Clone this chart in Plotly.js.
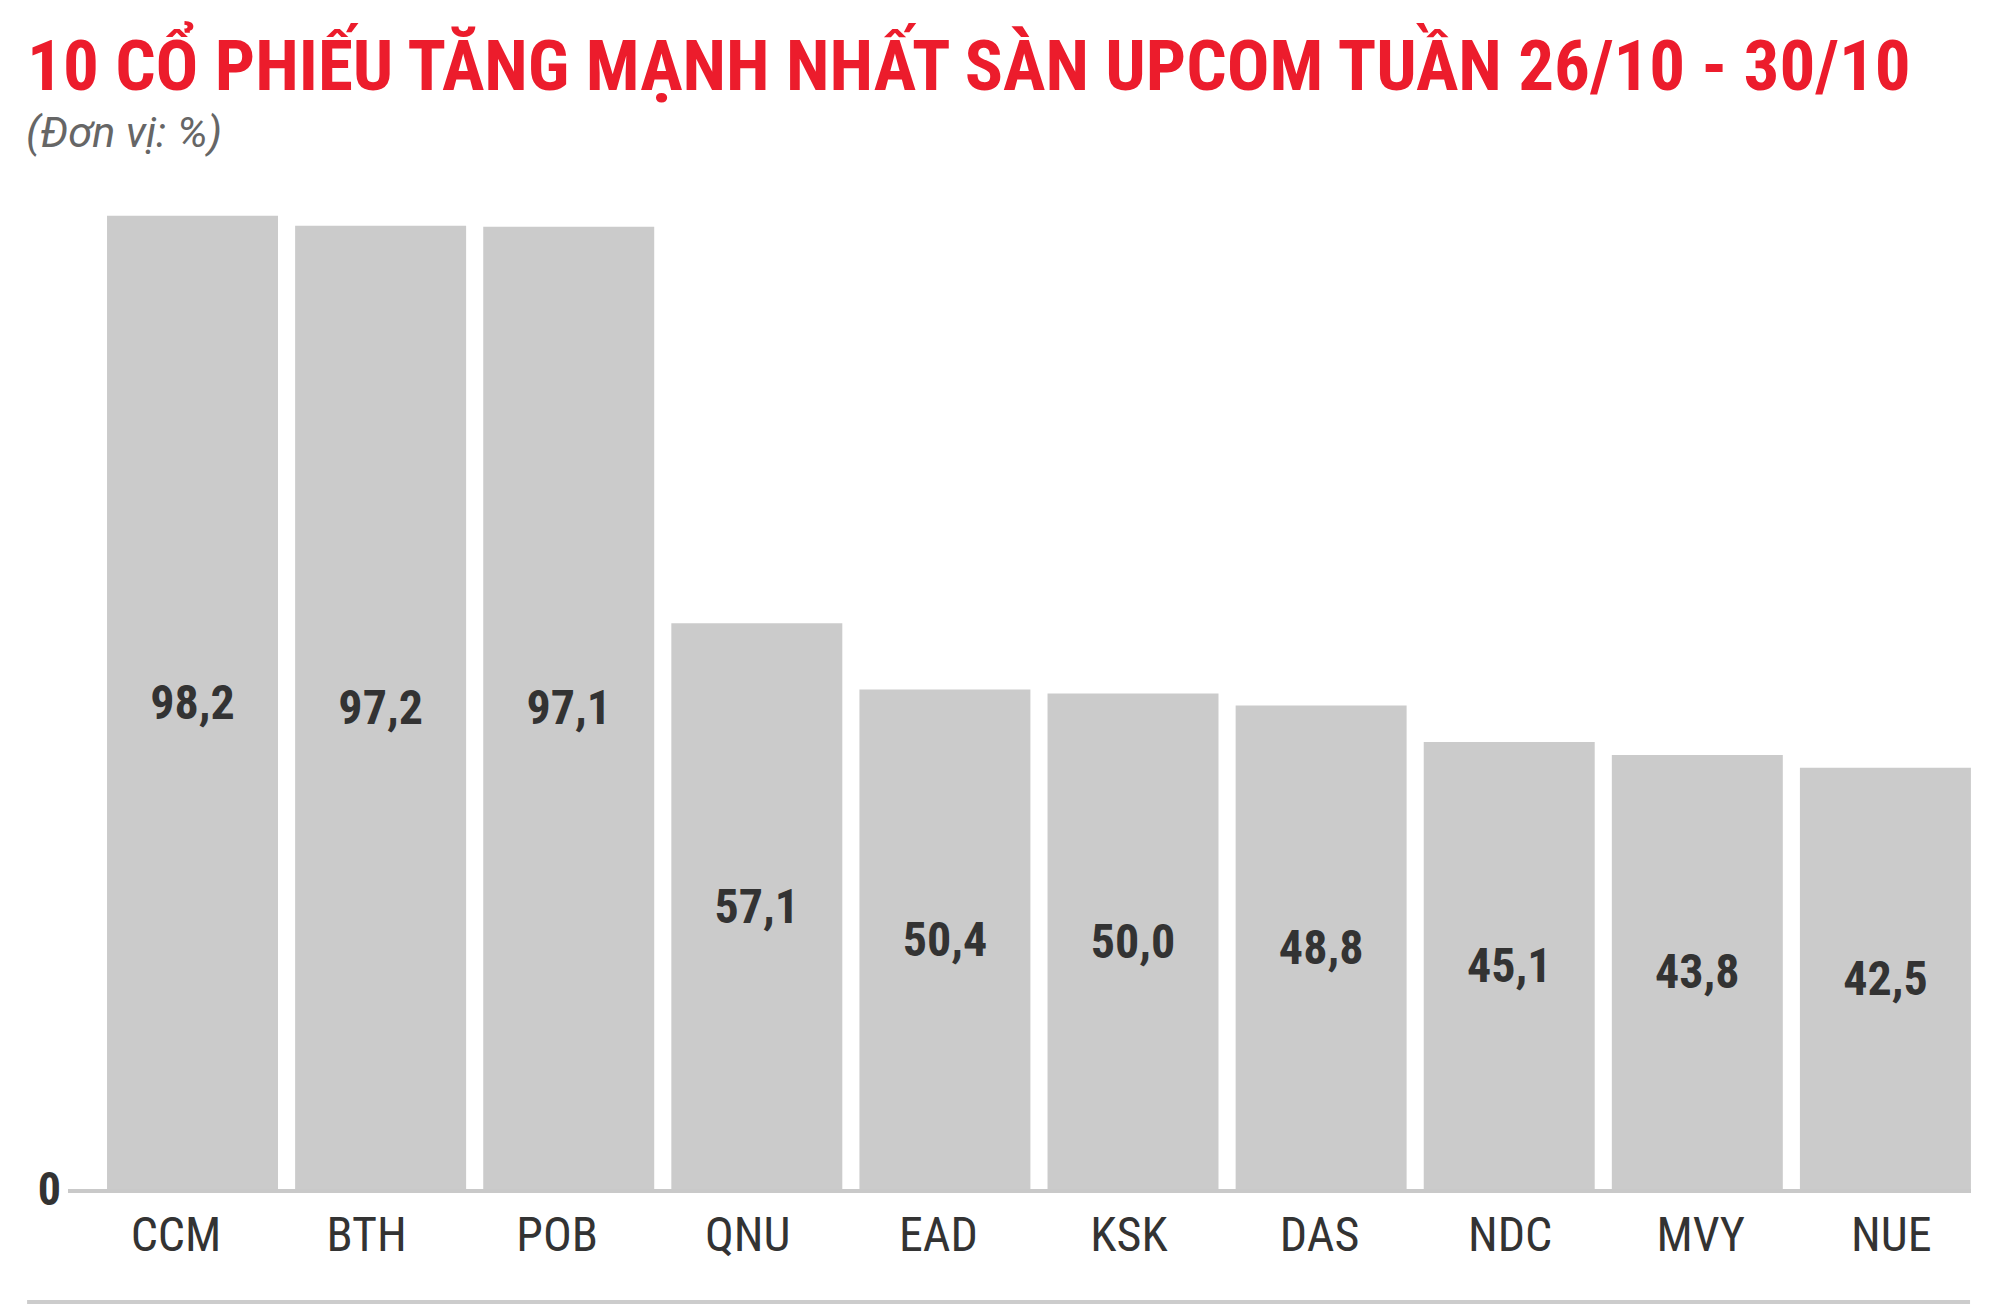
<!DOCTYPE html>
<html>
<head>
<meta charset="utf-8">
<script src="https://cdn.plot.ly/plotly-3.0.1.min.js"></script>
<style>html,body{margin:0;padding:0;background:#fff;}#chart{width:2000px;height:1304px;}</style>
</head>
<body>
<div id="chart"></div>
<script>
const categories = ['CCM', 'BTH', 'POB', 'QNU', 'EAD', 'KSK', 'DAS', 'NDC', 'MVY', 'NUE'];
const values = [98.2, 97.2, 97.1, 57.1, 50.4, 50.0, 48.8, 45.1, 43.8, 42.5];
const yTickVals = [0];
const yTickText = ['0'];
const titleText = '10 CỔ PHIẾU TĂNG MẠNH NHẤT SÀN UPCOM TUẦN 26/10 - 30/10';
const subtitleText = '(Đơn vị: %)';

const FONT = '"Roboto Condensed", "Liberation Sans Narrow", "DejaVu Sans Condensed", Roboto, sans-serif';
const FONT_SUB = 'Roboto, "Noto Sans", sans-serif';

const barTrace = {
  type: 'bar',
  x: categories,
  y: values,
  xaxis: 'x',
  yaxis: 'y',
  marker: {color: '#cbcbcb', line: {width: 0}},
  width: 0.909,
  text: values.map(v => v.toFixed(1).replace('.', ',')),
  textposition: 'inside',
  insidetextanchor: 'middle',
  constraintext: 'none',
  textangle: 0,
  textfont: {family: FONT, size: 48, color: '#333333', weight: 'bold'},
  hoverinfo: 'skip'
};

// invisible trace carrying the category labels on the label axis
const labelTrace = {
  type: 'scatter',
  mode: 'none',
  x: categories.map((c, i) => i),
  y: values,
  xaxis: 'x2',
  yaxis: 'y',
  hoverinfo: 'skip',
  showlegend: false
};

const layout = {
  width: 2000,
  height: 1304,
  paper_bgcolor: '#ffffff',
  plot_bgcolor: '#ffffff',
  separators: ',.',
  margin: {l: 68, r: 29, t: 198, b: 115},
  showlegend: false,
  title: {
    text: titleText,
    font: {family: FONT, size: 71, color: '#ec1c2c', weight: 'bold'},
    x: 0.0135, xref: 'container', xanchor: 'left',
    y: 0.969, yref: 'container', yanchor: 'top'
  },
  xaxis: {
    type: 'category',
    range: [-0.662, 9.455],
    showline: true,
    linecolor: '#c9c9c9',
    linewidth: 4,
    showgrid: false,
    zeroline: false,
    ticks: '',
    showticklabels: false,
    fixedrange: true
  },
  xaxis2: {
    overlaying: 'x',
    anchor: 'y',
    side: 'bottom',
    range: [-0.5666, 9.418],
    tickmode: 'array',
    tickvals: categories.map((c, i) => i),
    ticktext: categories,
    showline: false,
    showgrid: false,
    zeroline: false,
    ticks: '',
    tickfont: {family: FONT, size: 48, color: '#333333'},
    ticklabelstandoff: 13,
    fixedrange: true
  },
  yaxis: {
    range: [0, 100],
    showgrid: false,
    zeroline: false,
    showline: false,
    tickvals: yTickVals,
    ticktext: yTickText,
    ticks: '',
    tickfont: {family: FONT, size: 46, color: '#333333', weight: 'bold'},
    ticklabelstandoff: 6,
    fixedrange: true
  },
  annotations: [{
    text: subtitleText,
    xref: 'paper', yref: 'paper',
    x: -0.0230, y: 1.094,
    xanchor: 'left', yanchor: 'top',
    showarrow: false,
    font: {family: FONT_SUB, size: 43, color: '#666666', style: 'italic'}
  }],
  shapes: [{
    type: 'line',
    xref: 'paper', yref: 'paper',
    x0: -0.0215, x1: 0.9995,
    y0: -0.1145, y1: -0.1145,
    line: {color: '#cccccc', width: 5}
  }]
};

Plotly.newPlot('chart', [barTrace, labelTrace], layout, {displayModeBar: false, staticPlot: true});
</script>
</body>
</html>
